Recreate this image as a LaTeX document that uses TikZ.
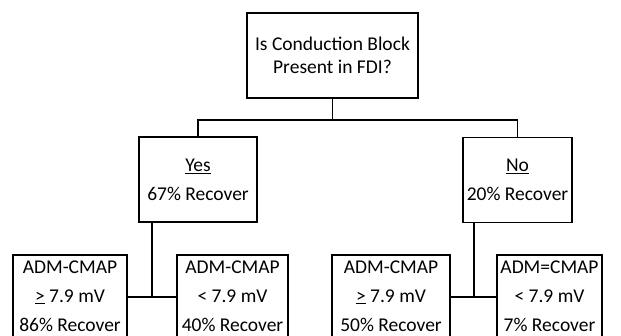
\documentclass[tikz,border=0pt]{standalone}
\usepackage{fontspec}
\setmainfont{Carlito}
\usepackage{tikz}

\begin{document}
\begin{tikzpicture}[x=1pt, y=-1pt, line width=1.6pt, every node/.style={font=\fontsize{19.5}{29}\selectfont}, box/.style={draw, rectangle, inner sep=0pt, align=center, minimum height=85pt}, leaf/.style={draw, rectangle, inner sep=0pt, align=center, minimum height=82pt, font=\fontsize{19.5}{29}\selectfont}]
	\useasboundingbox (0,0) rectangle (621,336);
	\clip (0,0) rectangle (621,336);
	\node[box, minimum width=171pt, font=\fontsize{19.5}{23}\selectfont] (q) at (332.5,55.5) {Is Conduction Block\\Present in FDI?};
	\node[box, minimum width=118pt] (yes) at (198,179.5) {\underline{Yes}\\67\% Recover};
	\node[box, minimum width=109pt] (no) at (517.5,180) {\underline{No}\\20\% Recover};
	\node[leaf, minimum width=114pt] (hiY) at (70,296) {ADM-CMAP\\\underline{>} 7.9 mV\\86\% Recover};
	\node[leaf, minimum width=111pt] (loY) at (232.5,296) {ADM-CMAP\\< 7.9 mV\\40\% Recover};
	\node[leaf, minimum width=118pt] (hiN) at (391,296) {ADM-CMAP\\\underline{>} 7.9 mV\\50\% Recover};
	\node[leaf, minimum width=105pt] (loN) at (549.5,296) {ADM=CMAP\\< 7.9 mV\\7\% Recover};
	\coordinate (top) at (332.5,120);
	\coordinate (ysplit) at (152,297);
	\coordinate (nsplit) at (474,297);
	\draw (q.south) -- (top);
	\draw (yes.north) |- (top) -| (no.north);
	\draw (ysplit |- yes.south) -- (ysplit);
	\draw (nsplit |- no.south) -- (nsplit);
	\foreach \a/\b in {hiY/loY, hiN/loN} {\draw (\a.east |- ysplit) -- (\b.west |- ysplit);}
\end{tikzpicture}
\end{document}
